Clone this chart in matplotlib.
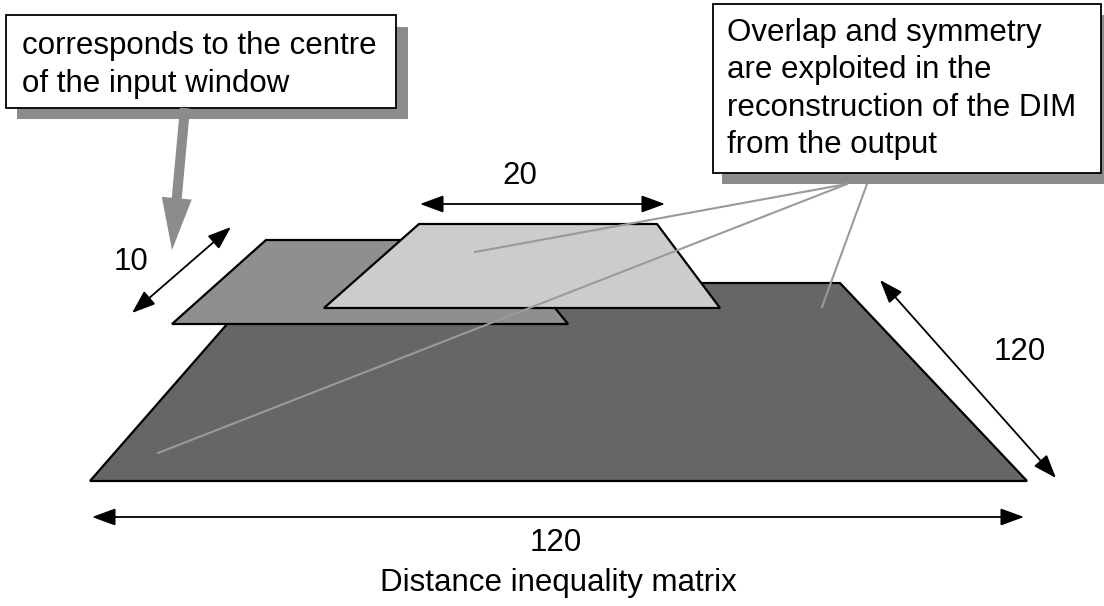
import matplotlib
matplotlib.use("Agg")
import matplotlib.pyplot as plt
from matplotlib.patches import Polygon, Rectangle, FancyArrow

plt.rcParams['font.family'] = ['Liberation Sans', 'DejaVu Sans']

# Diagram geometry (pixel space of the reference, y downwards)
dim_matrix = [(90, 481), (1027, 481), (840, 283), (263, 283)]
input_window = [(172, 324), (568, 324), (500, 240), (266, 240)]
output_window = [(324, 308), (720, 308), (657, 224), (419, 224)]
shape_colors = ['#666666', '#8f8f8f', '#cccccc']

dim_labels = ['20', '10', '120', '120']
dim_arrows = [((420, 204), (665, 204)),
              ((132, 313), (231, 227)),
              ((880, 280), (1056, 478)),
              ((92, 517), (1024, 517))]
dim_label_pos = [(520, 176), (131, 262), (1020, 352), (556, 543)]

title = 'Distance inequality matrix'
note_left = 'corresponds to the centre\nof the input window'
note_right = 'Overlap and symmetry\nare exploited in the\nreconstruction of the DIM\nfrom the output'
leader_lines = [((847, 184), (475, 252)),
                ((847, 184), (158, 453)),
                ((867, 184), (822, 307))]

fig = plt.figure(figsize=(11.04, 6.06), dpi=100)
ax = fig.add_axes([0, 0, 1, 1])
ax.set_xlim(0, 1104)
ax.set_ylim(606, 0)
ax.axis('off')

for pts, c in zip([dim_matrix, input_window, output_window], shape_colors):
    ax.add_patch(Polygon(pts, closed=True, facecolor=c, edgecolor='black', lw=1.6, joinstyle='miter'))

fs = 22.5
for (a, b), lab, pos in zip(dim_arrows, dim_labels, dim_label_pos):
    ax.annotate('', xy=b, xytext=a,
                arrowprops=dict(arrowstyle='<|-|>,head_length=0.9,head_width=0.33',
                                mutation_scale=16, color='black', lw=1.3,
                                shrinkA=0, shrinkB=0))
    ax.text(pos[0], pos[1], lab, fontsize=fs, ha='center', va='center')

ax.text(558, 583, title, fontsize=fs, ha='center', va='center')

# left note box with shadow
shadow = '#8c8c8c'
ax.add_patch(Rectangle((17, 27), 391, 92, facecolor=shadow, edgecolor='none'))
ax.add_patch(Rectangle((6, 15), 390, 93, facecolor='white', edgecolor='black', lw=1.3))
ax.text(22, 65, note_left, fontsize=fs, ha='left', va='center', linespacing=1.38)

# gray pointer arrow
ax.add_patch(FancyArrow(185, 108, -13, 142, width=10, head_width=30, head_length=52,
                        length_includes_head=True, facecolor=shadow, edgecolor='none'))

# right note box with shadow
ax.add_patch(Rectangle((722, 15), 400, 169, facecolor=shadow, edgecolor='none'))
ax.add_patch(Rectangle((713, 4), 388, 169, facecolor='white', edgecolor='black', lw=1.3))
ax.text(727, 89, note_right, fontsize=fs, ha='left', va='center', linespacing=1.32)

for (a, b) in leader_lines:
    ax.plot([a[0], b[0]], [a[1], b[1]], color='#9a9a9a', lw=1.5)

fig.savefig('out.png', dpi=100)
